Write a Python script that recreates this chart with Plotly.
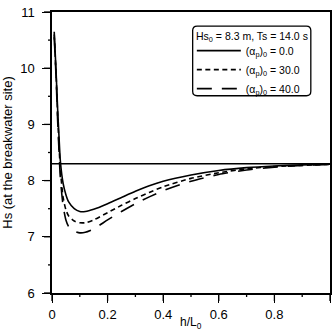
import plotly.graph_objects as go

# ---- data ----
x_vals = [0.008, 0.015, 0.02, 0.025, 0.03, 0.04, 0.05, 0.06, 0.08, 0.1, 0.12, 0.15,
          0.2, 0.25, 0.3, 0.35, 0.4, 0.5, 0.6, 0.7, 0.8, 0.9, 1.0]
hs_alpha0 = [10.65, 9.9, 9.3, 8.8, 8.35, 7.95, 7.75, 7.62, 7.5, 7.45, 7.45, 7.49,
             7.59, 7.7, 7.81, 7.91, 7.99, 8.1, 8.18, 8.23, 8.26, 8.28, 8.29]
hs_alpha30 = [10.6, 9.85, 9.2, 8.65, 8.2, 7.7, 7.48, 7.37, 7.28, 7.25, 7.25, 7.3,
              7.43, 7.56, 7.68, 7.79, 7.89, 8.04, 8.14, 8.21, 8.25, 8.27, 8.29]
hs_alpha40 = [10.55, 9.8, 9.1, 8.55, 8.05, 7.55, 7.3, 7.18, 7.1, 7.07, 7.08, 7.14,
              7.3, 7.45, 7.59, 7.71, 7.82, 7.99, 8.11, 8.19, 8.24, 8.27, 8.29]
ref_x = [0, 1]
ref_hs = [8.3, 8.3]
labels = ["(α<sub>p</sub>)<sub>0</sub> = 0.0",
          "(α<sub>p</sub>)<sub>0</sub> = 30.0",
          "(α<sub>p</sub>)<sub>0</sub> = 40.0"]
legend_title = "Hs<sub>0</sub> = 8.3 m, Ts = 14.0 s"
x_ticks = [0, 0.2, 0.4, 0.6, 0.8, 1]
x_ticktext = ["0", "0.2", "0.4", "0.6", "0.8", "1"]
x_minor = [0.1, 0.3, 0.5, 0.7, 0.9]
y_ticks = [6, 7, 8, 9, 10, 11]
y_minor = [6.5, 7.5, 8.5, 9.5, 10.5]
x_range = [0, 1]
y_range = [6, 11]

FONT = "Liberation Sans, Arial, sans-serif"
W, H = 333, 331
ML, MR, MT, MB = 52, 3, 12, 38
PW, PH = W - ML - MR, H - MT - MB

fig = go.Figure()
fig.add_trace(go.Scatter(x=ref_x, y=ref_hs, mode="lines", showlegend=False,
                         line=dict(color="black", width=1.3)))
for ys, name, dash in [(hs_alpha0, labels[0], "solid"),
                       (hs_alpha30, labels[1], "5px,3.5px"),
                       (hs_alpha40, labels[2], "15px,10px")]:
    fig.add_trace(go.Scatter(x=x_vals, y=ys, mode="lines", name=name,
                             line=dict(color="black", width=1.6, dash=dash, shape="spline",
                                       smoothing=0.6)))

# rounded legend frame (paper coords)
x0, x1, y0, y1 = 0.506, 0.931, 0.702, 0.950
rx, ry = 0.016, 0.016
path = (f"M{x0+rx},{y1} L{x1-rx},{y1} Q{x1},{y1} {x1},{y1-ry} "
        f"L{x1},{y0+ry} Q{x1},{y0} {x1-rx},{y0} L{x0+rx},{y0} Q{x0},{y0} {x0},{y0+ry} "
        f"L{x0},{y1-ry} Q{x0},{y1} {x0+rx},{y1} Z")
shapes = [dict(type="path", path=path, xref="paper", yref="paper",
               line=dict(color="black", width=1.3), fillcolor="white", layer="below")]

# outside tick marks drawn explicitly (positions follow the axis ranges)
def xp(v):
    return (v - x_range[0]) / (x_range[1] - x_range[0])

def yp(v):
    return (v - y_range[0]) / (y_range[1] - y_range[0])

tick_line = dict(color="black", width=1.3)
for v, ln in [(t, 8) for t in x_ticks] + [(t, 4) for t in x_minor]:
    shapes.append(dict(type="line", xref="paper", yref="paper", x0=xp(v), x1=xp(v),
                       y0=0, y1=-ln / PH, line=tick_line, layer="above"))
for v, ln in [(t, 8) for t in y_ticks] + [(t, 4) for t in y_minor]:
    shapes.append(dict(type="line", xref="paper", yref="paper", y0=yp(v), y1=yp(v),
                       x0=0, x1=-ln / PW, line=tick_line, layer="above"))

fig.update_layout(
    width=W, height=H,
    margin=dict(l=ML, r=MR, t=MT, b=MB),
    paper_bgcolor="white", plot_bgcolor="white",
    font=dict(family=FONT, color="black", size=13),
    shapes=shapes,
    annotations=[dict(text=legend_title, x=0.719, y=0.911, xref="paper", yref="paper",
                      xanchor="center", yanchor="middle", showarrow=False,
                      font=dict(size=10.5)),
                 dict(text="h/L<sub>0</sub>", x=0.5, y=-MB / PH,
                      xref="paper", yref="paper", xanchor="center", yanchor="bottom",
                      showarrow=False, font=dict(size=12), yshift=-2)],
    legend=dict(
        x=0.503, y=0.914, xanchor="left", yanchor="top",
        bgcolor="rgba(0,0,0,0)", borderwidth=0,
        font=dict(size=10.5),
        tracegroupgap=0, itemwidth=44,
    ),
)
common = dict(ticks="outside", ticklen=8, tickwidth=1.3, tickcolor="black",
              showline=True, linecolor="black", linewidth=1.5, mirror=True,
              showgrid=False, zeroline=False, automargin=False)
fig.update_xaxes(range=x_range, tickmode="array", tickvals=x_ticks, ticktext=x_ticktext,
                 ticklabelstandoff=1, **common)
fig.update_yaxes(range=y_range, tickmode="array", tickvals=y_ticks, ticklabelstandoff=5,
                 title=dict(text="Hs (at the breakwater site)", standoff=6, font=dict(size=13)),
                 **common)

fig.write_html("out.html")
